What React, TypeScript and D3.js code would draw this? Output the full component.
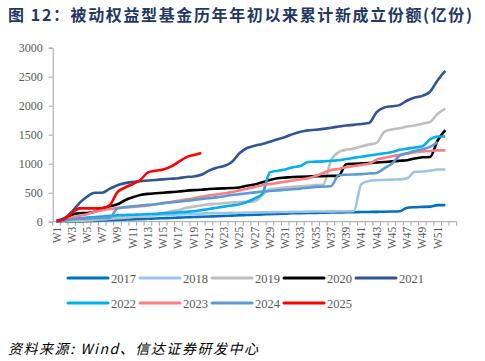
import React, { useRef, useEffect } from "react";
import * as d3 from "d3";

// categories: 53 weekly slots, only odd weeks up to W51 are labelled
const weeks = d3.range(1, 54).map((i) => `W${i}`);
const weekLabels = weeks.filter((_, i) => i % 2 === 0 && i <= 50);
const yTicks = [0, 500, 1000, 1500, 2000, 2500, 3000];

const years = ["2017", "2018", "2019", "2020", "2021", "2022", "2023", "2024", "2025"];

const s2017 = [0, 0, 2, 5, 10, 14, 20, 26, 30, 35, 40, 44, 50, 56, 60, 64, 70, 76, 80, 85, 90, 95, 100, 104, 110, 115, 120, 124, 130, 135, 140, 145, 148, 150, 152, 155, 158, 160, 162, 164, 166, 168, 170, 172, 175, 180, 240, 250, 255, 260, 285, 285];
const s2018 = [0, 10, 25, 40, 55, 65, 70, 75, 80, 90, 95, 100, 105, 110, 115, 120, 125, 130, 135, 140, 145, 148, 150, 152, 155, 158, 160, 162, 164, 166, 168, 170, 172, 174, 175, 176, 178, 180, 180, 185, 650, 700, 715, 720, 725, 730, 750, 860, 865, 880, 900, 900];
const s2019 = [0, 5, 10, 15, 20, 30, 40, 50, 60, 70, 80, 90, 100, 120, 150, 180, 200, 240, 260, 280, 300, 310, 320, 330, 340, 345, 350, 460, 560, 575, 590, 600, 610, 620, 630, 640, 1050, 1200, 1240, 1260, 1300, 1330, 1360, 1550, 1590, 1610, 1640, 1660, 1690, 1720, 1860, 1950];
const s2020 = [0, 30, 120, 145, 150, 170, 230, 265, 300, 370, 420, 460, 480, 490, 500, 510, 520, 535, 545, 550, 565, 570, 575, 580, 590, 620, 640, 680, 720, 750, 760, 770, 775, 780, 785, 785, 790, 790, 990, 1000, 1005, 1010, 1020, 1030, 1040, 1050, 1060, 1090, 1110, 1115, 1400, 1580];
const s2021 = [20, 60, 170, 320, 430, 500, 500, 570, 630, 665, 685, 700, 710, 720, 730, 740, 750, 770, 780, 810, 880, 930, 960, 1030, 1180, 1270, 1310, 1340, 1380, 1420, 1460, 1510, 1550, 1575, 1585, 1600, 1620, 1640, 1660, 1670, 1685, 1700, 1890, 1970, 1990, 2010, 2090, 2140, 2170, 2240, 2440, 2600];
const s2022 = [0, 20, 50, 60, 70, 80, 90, 100, 110, 115, 120, 125, 130, 135, 145, 150, 160, 170, 180, 200, 220, 240, 260, 280, 300, 340, 400, 480, 850, 880, 900, 940, 960, 1030, 1035, 1040, 1050, 1060, 1080, 1100, 1120, 1140, 1160, 1180, 1200, 1240, 1260, 1280, 1300, 1420, 1470, 1470];
const s2023 = [0, 30, 70, 100, 130, 170, 200, 220, 235, 245, 255, 265, 280, 300, 320, 340, 360, 380, 400, 430, 450, 470, 490, 510, 540, 570, 600, 630, 650, 670, 690, 710, 730, 750, 790, 840, 890, 910, 940, 960, 980, 1000, 1070, 1100, 1130, 1150, 1170, 1200, 1210, 1220, 1230, 1230];
const s2024 = [0, 20, 40, 50, 55, 60, 65, 70, 230, 250, 265, 280, 290, 300, 320, 330, 345, 360, 375, 390, 405, 420, 440, 460, 475, 490, 505, 520, 530, 540, 550, 560, 570, 585, 600, 605, 610, 800, 810, 815, 820, 830, 840, 920, 1000, 1140, 1180, 1220, 1250, 1290, 1370];
const s2025 = [10, 40, 150, 230, 230, 230, 235, 290, 510, 590, 650, 720, 850, 880, 900, 950, 1030, 1110, 1150, 1185];

const seriesValues = [s2017, s2018, s2019, s2020, s2021, s2022, s2023, s2024, s2025];
const colors = ["#0070C0", "#9DC3E6", "#BFBFBF", "#000000", "#2F5597", "#00B0F0", "#FF7C80", "#5B9BD5", "#FF0000"];

const serif = "'Times New Roman', 'Liberation Serif', serif";

const Chart: React.FC = () => {
    const ref = useRef<SVGSVGElement>(null);

    useEffect(() => {
        const width = 485,
            height = 361;
        const svg = d3.select(ref.current).attr("width", width).attr("height", height);
        svg.selectAll("*").remove();

        const x = d3.scaleBand<string>().domain(weeks).range([52.7, 456.7]).padding(0);
        const y = d3.scaleLinear().domain([0, 3000]).range([221.7, 47.7]);

        // title
        svg.append("text")
            .attr("x", 8)
            .attr("y", 21)
            .text("图 12：被动权益型基金历年年初以来累计新成立份额(亿份)")
            .style("font-family", "'Noto Sans CJK SC', sans-serif")
            .style("font-weight", "bold")
            .style("font-size", "16px")
            .attr("textLength", 464)
            .attr("fill", "#1F3864");

        // y axis
        const yAxis = svg
            .append("g")
            .attr("transform", `translate(${52.7},0)`)
            .call(d3.axisLeft(y).tickValues(yTicks).tickFormat(d3.format("d")).tickSize(4).tickPadding(6));
        yAxis.selectAll("path,line").attr("stroke", "#a6a6a6");
        yAxis.selectAll("text").style("font-family", serif).style("font-size", "12px").attr("fill", "#595959");

        // x axis: tick marks on band edges
        const xg = svg.append("g");
        xg.append("line").attr("x1", 52.7).attr("x2", 456.7).attr("y1", y(0)).attr("y2", y(0)).attr("stroke", "#a6a6a6");
        xg.selectAll(".xt")
            .data(weeks.concat(["end"]))
            .enter()
            .append("line")
            .attr("x1", (d, i) => 52.7 + i * x.bandwidth())
            .attr("x2", (d, i) => 52.7 + i * x.bandwidth())
            .attr("y1", y(0))
            .attr("y2", y(0) + 4)
            .attr("stroke", "#a6a6a6");
        xg.selectAll(".xl")
            .data(weekLabels)
            .enter()
            .append("text")
            .attr("transform", (d) => `translate(${(x(d) as number) + x.bandwidth() / 2 + 4},${y(0) + 5}) rotate(-90)`)
            .attr("text-anchor", "end")
            .text((d) => d)
            .style("font-family", serif)
            .style("font-size", "11.5px")
            .attr("fill", "#595959");

        // lines
        const line = d3
            .line<number>()
            .x((_, i) => (x(weeks[i]) as number) + x.bandwidth() / 2)
            .y((d) => y(d))
            .curve(d3.curveMonotoneX);

        svg.append("g")
            .selectAll("path")
            .data(seriesValues)
            .enter()
            .append("path")
            .attr("d", (d) => line(d) || "")
            .attr("fill", "none")
            .attr("stroke", (_, i) => colors[i])
            .attr("stroke-width", 2.6)
            .attr("stroke-linejoin", "round");

        // legend
        const lg = svg.append("g");
        years.forEach((yr, i) => {
            const col = i < 5 ? i : i - 5;
            const row = i < 5 ? 0 : 1;
            const lx = 68 + col * 72;
            const ly = 278 + row * 25;
            lg.append("line")
                .attr("x1", lx)
                .attr("x2", lx + 40)
                .attr("y1", ly)
                .attr("y2", ly)
                .attr("stroke", colors[i])
                .attr("stroke-width", 3)
                .attr("stroke-linecap", "round");
            lg.append("text")
                .attr("x", lx + 43)
                .attr("y", ly + 4.5)
                .text(yr)
                .style("font-family", serif)
                .style("font-size", "12.5px")
                .attr("fill", "#595959");
        });

        // source
        svg.append("text")
            .attr("x", 8)
            .attr("y", 354)
            .text("资料来源: Wind、信达证券研发中心")
            .style("font-family", "'Noto Sans CJK SC', sans-serif")
            .style("font-style", "italic")
            .style("font-size", "14px")
            .attr("textLength", 250)
            .attr("fill", "#000");
    }, []);

    return <svg ref={ref} style={{ display: "block" }}></svg>;
};

export default function App() {
    return (
        <div style={{ position: "absolute", left: 0, top: 0, background: "#fff" }}>
            <Chart />
        </div>
    );
}
